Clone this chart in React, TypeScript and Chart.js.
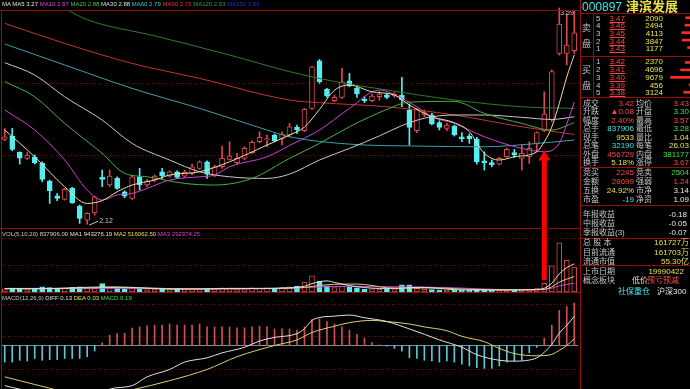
import React, { useEffect, useRef } from "react";
import { Chart, registerables } from "chart.js";
Chart.register(...registerables);

// ---------------- data ----------------
const opens = [
  2.696, 2.719, 2.608, 2.567, 2.578, 2.533, 2.413, 2.313, 2.288, 2.363,
  2.243, 2.147, 2.197, 2.438, 2.386, 2.431, 2.34, 2.295, 2.442, 2.386,
  2.42, 2.476, 2.447, 2.476, 2.447, 2.465, 2.499, 2.544, 2.454, 2.51,
  2.56, 2.538, 2.567, 2.606, 2.68, 2.692, 2.726, 2.703, 2.726, 2.778,
  2.755, 2.907, 3.231, 3.036, 2.959, 2.982, 3.095, 3.043, 2.968, 2.959,
  2.986, 3.0, 2.991, 2.996, 2.896, 2.755, 2.862, 2.862, 2.81, 2.771,
  2.787, 2.714, 2.719, 2.696, 2.551, 2.538, 2.528, 2.578, 2.606, 2.567,
  2.578, 2.669, 2.755, 2.828, 3.281, 3.281, 3.3,
];
const highs = [
  2.771, 2.771, 2.612, 2.606, 2.59, 2.544, 2.42, 2.329, 2.363, 2.37,
  2.25, 2.197, 2.311, 2.488, 2.488, 2.442, 2.347, 2.454, 2.499, 2.424,
  2.454, 2.499, 2.483, 2.483, 2.488, 2.528, 2.551, 2.551, 2.522, 2.651,
  2.68, 2.601, 2.646, 2.687, 2.748, 2.726, 2.733, 2.748, 2.805, 2.794,
  2.907, 3.195, 3.24, 3.043, 2.998, 3.179, 3.145, 3.054, 2.986, 3.005,
  3.02, 3.009, 3.014, 3.118, 2.937, 2.907, 2.896, 2.873, 2.823, 2.805,
  2.794, 2.742, 2.733, 2.71, 2.612, 2.556, 2.574, 2.635, 2.628, 2.658,
  2.68, 2.748, 3.02, 3.168, 3.59, 3.55, 3.57,
];
const lows = [
  2.687, 2.619, 2.528, 2.56, 2.528, 2.408, 2.261, 2.279, 2.284, 2.261,
  2.125, 2.12, 2.181, 2.374, 2.374, 2.356, 2.299, 2.288, 2.352, 2.374,
  2.408, 2.431, 2.438, 2.431, 2.438, 2.454, 2.492, 2.431, 2.442, 2.499,
  2.556, 2.528, 2.556, 2.601, 2.674, 2.646, 2.68, 2.658, 2.714, 2.737,
  2.748, 2.9, 3.077, 2.982, 2.952, 2.975, 3.054, 2.982, 2.946, 2.952,
  2.964, 2.973, 2.982, 2.918, 2.658, 2.742, 2.85, 2.794, 2.76, 2.755,
  2.719, 2.68, 2.669, 2.528, 2.488, 2.51, 2.522, 2.574, 2.574, 2.488,
  2.533, 2.612, 2.748, 2.817, 3.27, 3.202, 3.28,
];
const closes = [
  2.714, 2.628, 2.569, 2.59, 2.538, 2.424, 2.347, 2.295, 2.356, 2.265,
  2.159, 2.193, 2.306, 2.424, 2.447, 2.363, 2.311, 2.442, 2.386, 2.415,
  2.447, 2.449, 2.476, 2.438, 2.472, 2.51, 2.544, 2.46, 2.51, 2.567,
  2.583, 2.567, 2.635, 2.676, 2.71, 2.701, 2.687, 2.733, 2.782, 2.76,
  2.9, 3.19, 3.088, 2.991, 2.982, 3.088, 3.059, 3.005, 2.957, 2.991,
  3.005, 2.982, 3.005, 2.964, 2.778, 2.9, 2.878, 2.801, 2.778, 2.794,
  2.726, 2.701, 2.701, 2.544, 2.538, 2.524, 2.567, 2.628, 2.59, 2.601,
  2.635, 2.742, 2.869, 3.157, 3.481, 3.338, 3.42,
];
const volumes = [
  110000, 130000, 95000, 80000, 120000, 170000, 150000, 90000, 130000, 160000,
  170000, 130000, 120000, 283000, 150000, 120000, 100000, 140000, 100000, 85000,
  100000, 90000, 80000, 90000, 100000, 105000, 110000, 115000, 110000, 140000,
  130000, 100000, 110000, 140000, 120000, 120000, 130000, 150000, 170000, 200000,
  335000, 545000, 367000, 210000, 150000, 190000, 160000, 140000, 100000, 110000,
  95000, 90000, 80000, 240000, 240000, 120000, 90000, 80000, 75000, 65000,
  75000, 60000, 55000, 95000, 80000, 60000, 55000, 80000, 75000, 80000,
  95000, 112000, 290000, 880000, 1650000, 1060000, 837906,
];
const macdHist = [
  -0.074, -0.074, -0.066, -0.069, -0.058, -0.066, -0.063, -0.063, -0.058, -0.058,
  -0.058, -0.05, -0.025, 0.012, 0.046, 0.053, 0.055, 0.078, 0.083, 0.088,
  0.091, 0.091, 0.096, 0.091, 0.091, 0.091, 0.096, 0.083, 0.083, 0.083,
  0.083, 0.079, 0.079, 0.083, 0.086, 0.083, 0.074, 0.074, 0.074, 0.069,
  0.083, 0.116, 0.119, 0.107, 0.096, 0.083, 0.069, 0.05, 0.033, 0.013,
  0.003, -0.003, -0.013, -0.025, -0.055, -0.058, -0.066, -0.069, -0.074, -0.069,
  -0.074, -0.083, -0.091, -0.099, -0.102, -0.102, -0.091, -0.074, -0.069, -0.066,
  -0.033, -0.008, 0.033, 0.091, 0.157, 0.174, 0.19,
];
// [day index, value] readings of the indicator lines
const diffPts: [number, number][] = [
  [0, -0.179], [2, -0.195], [4, -0.207], [7, -0.225], [9, -0.24], [11, -0.245], [12, -0.232],
  [14, -0.195], [17, -0.179], [19, -0.14], [22, -0.107], [24, -0.074], [27, -0.055], [29, -0.033],
  [32, -0.008], [34, 0.02], [36, 0.036], [39, 0.053], [40, 0.075], [41, 0.112], [42, 0.125],
  [44, 0.131], [46, 0.136], [48, 0.124], [51, 0.107], [54, 0.074], [56, 0.05], [58, 0.025],
  [61, -0.008], [63, -0.041], [66, -0.066], [68, -0.07], [70, -0.065], [71, -0.055],
  [72, -0.03], [73, 0.005], [74, 0.055], [75, 0.09], [76, 0.13],
];
const deaPts: [number, number][] = [
  [0, -0.14], [4, -0.174], [8, -0.207], [12, -0.235], [17, -0.198], [22, -0.157], [27, -0.107],
  [31, -0.05], [36, 0.0], [39, 0.025], [41, 0.058], [44, 0.086], [46, 0.102], [49, 0.112],
  [51, 0.107], [54, 0.096], [56, 0.083], [59, 0.066], [61, 0.041], [64, 0.017], [66, -0.013],
  [68, -0.036], [71, -0.046], [72, -0.045], [73, -0.04], [74, -0.022], [75, 0.0], [76, 0.03],
];
const ma5Pts: [number, number][] = [
  [0, 2.76], [4, 2.578], [8, 2.374], [11, 2.261], [13, 2.28], [15, 2.34], [17, 2.386], [20, 2.42],
  [22, 2.454], [26, 2.476], [30, 2.544], [35, 2.658], [38, 2.726], [40, 2.78], [42, 2.9], [44, 3.03],
  [46, 3.066], [49, 3.02], [52, 2.998], [54, 2.93], [57, 2.85], [60, 2.81], [62, 2.748], [64, 2.601],
  [66, 2.556], [68, 2.578], [71, 2.612], [72, 2.68], [73, 2.78], [74, 2.94], [75, 3.12], [76, 3.27],
];
const ma10Pts: [number, number][] = [
  [0, 2.896], [4, 2.76], [8, 2.556], [11, 2.352], [13, 2.284], [15, 2.318], [17, 2.329], [19, 2.363],
  [22, 2.42], [26, 2.442], [28, 2.454], [30, 2.51], [35, 2.578], [38, 2.655], [42, 2.76], [46, 2.907],
  [50, 3.032], [53, 2.975], [55, 2.918], [57, 2.85], [60, 2.805], [64, 2.714], [69, 2.635],
  [72, 2.612], [74, 2.669], [75, 2.8], [76, 2.95],
];
const ma20Pts: [number, number][] = [
  [0, 3.089], [4, 2.986], [8, 2.805], [13, 2.601], [16, 2.465], [19, 2.442], [24, 2.397], [28, 2.386],
  [33, 2.431], [38, 2.567], [42, 2.669], [46, 2.782], [51, 2.9], [54, 2.95], [60, 2.955], [64, 2.873],
  [69, 2.805], [73, 2.76], [76, 2.81],
];
const ma30Pts: [number, number][] = [
  [0, 3.218], [4, 3.134], [8, 2.986], [13, 2.828], [17, 2.669], [22, 2.556], [26, 2.476], [30, 2.442],
  [35, 2.431], [38, 2.46], [42, 2.556], [46, 2.635], [50, 2.72], [53, 2.79], [56, 2.84], [60, 2.862],
  [64, 2.862], [69, 2.846], [73, 2.832], [76, 2.85],
];
const ma60Pts: [number, number][] = [
  [0, 3.345], [8, 3.202], [17, 3.043], [26, 2.907], [35, 2.76], [38, 2.714], [46, 2.664], [55, 2.651],
  [64, 2.646], [70, 2.664], [76, 2.692],
];
const ma90Pts: [number, number][] = [
  [0, 3.485], [8, 3.349], [17, 3.213], [26, 3.111], [38, 2.964], [42, 2.946], [51, 2.918], [60, 2.862],
  [69, 2.782], [76, 2.73],
];
const ma120Pts: [number, number][] = [
  [0, 3.76], [4, 3.67], [8, 3.585], [11, 3.51], [20, 3.4], [30, 3.27], [38, 3.157], [44, 3.09],
  [51, 3.032], [60, 2.964], [69, 2.918], [76, 2.907],
];
const volMa5Pts: [number, number][] = [
  [0, 110000], [4, 107000], [9, 138000], [13, 170000], [15, 170000], [18, 142000], [22, 95000],
  [26, 99000], [30, 121000], [34, 120000], [38, 142000], [40, 193000], [41, 280000], [42, 343000],
  [43, 372000], [44, 321000], [46, 215000], [48, 150000], [50, 119000], [53, 123000], [54, 149000],
  [56, 154000], [58, 121000], [60, 77000], [63, 68000], [66, 69000], [69, 72000], [71, 88000],
  [72, 126000], [73, 291000], [74, 605000], [75, 818000], [76, 943276],
];
const volMa10Pts: [number, number][] = [
  [0, 115000], [5, 112000], [10, 128000], [14, 150000], [19, 135000], [24, 105000], [29, 105000],
  [34, 120000], [39, 135000], [41, 185000], [43, 240000], [45, 265000], [47, 265000], [49, 220000],
  [51, 140000], [53, 130000], [56, 135000], [59, 125000], [62, 90000], [66, 68000], [70, 72000],
  [72, 90000], [73, 170000], [74, 330000], [75, 430000], [76, 516062],
];
const volMa20Pts: [number, number][] = [
  [0, 120000], [10, 125000], [20, 120000], [30, 105000], [38, 125000], [42, 170000], [46, 190000],
  [50, 180000], [55, 170000], [60, 140000], [64, 100000], [68, 75000], [71, 78000], [72, 88000],
  [73, 125000], [74, 205000], [75, 255000], [76, 292374],
];

// legend readings
const maNames = ["MA5", "MA10", "MA20", "MA30", "MA60", "MA90", "MA120", "MA250"];
const maLast = ["3.27", "2.97", "2.88", "2.88", "2.79", "2.75", "2.93", "3.86"];
const volLegend = ["VOL(5,10,20)", "837906.00", "MA1 943276.19", "MA2 516062.50", "MA3 292374.25"];
const macdLegend = ["MACD(12,26,9)", "DIFF 0.13", "DEA 0.03", "MACD 0.19"];

// quote panel
const stockCode = "000897";
const stockName = "津滨发展";
const askPrices = [3.47, 3.46, 3.45, 3.44, 3.43];
const askVols = [2090, 2494, 4113, 3847, 1177];
const bidPrices = [3.42, 3.41, 3.40, 3.39, 3.38];
const bidVols = [2370, 4696, 9679, 456, 3124];

// annotation (red arrow)
const arrowAnno = { index: 72, tipPrice: 2.62, baseVolume: 400000 };

// ---------------- styles ----------------
const C_RED = "#ff4646";
const C_GREEN = "#3ce03c";
const C_CYAN = "#40e6e6";
const C_YEL = "#e8e04c";
const C_WHITE = "#e6e6e6";
const C_LABEL = "#c6c6c6";
const C_FRAME = "#980c0c";
const C_GRID = "#7a0000";
const UP = "#e04848";
const DOWN = "#54eef0";
const PANEL_FONT = "'Liberation Sans', 'Noto Sans CJK SC', sans-serif";

const N = opens.length;
const days = opens.map((_, i) => `D${i + 1}`);
const upAt = (i: number) => closes[i] >= opens[i];

function sparse(pts: [number, number][]) {
  const arr: (number | null)[] = new Array(N).fill(null);
  pts.forEach(([i, v]) => {
    arr[i] = v;
  });
  return arr;
}

function lineDs(pts: [number, number][], color: string) {
  return {
    type: "line" as const,
    data: sparse(pts),
    borderColor: color,
    borderWidth: 1,
    pointRadius: 0,
    spanGaps: true,
    cubicInterpolationMode: "monotone" as const,
    fill: false,
    order: 0,
  };
}

function baseOptions(yMin: number, yMax: number, top = 0): any {
  return {
    animation: false,
    responsive: false,
    devicePixelRatio: 1,
    events: [],
    layout: { padding: { left: 1, right: 2, top, bottom: 0 } },
    plugins: { legend: { display: false }, tooltip: { enabled: false } },
    scales: {
      x: { display: false, offset: true },
      y: { display: false, min: yMin, max: yMax },
    },
  };
}

function dottedLines(chart: any, values: number[]) {
  const { ctx, scales } = chart;
  ctx.save();
  ctx.strokeStyle = C_GRID;
  ctx.lineWidth = 1;
  ctx.setLineDash([1, 2]);
  values.forEach((v) => {
    const py = Math.round(scales.y.getPixelForValue(v)) + 0.5;
    ctx.beginPath();
    ctx.moveTo(2, py);
    ctx.lineTo(chart.width, py);
    ctx.stroke();
  });
  ctx.restore();
}

const priceGrid = [3.08, 2.59];
const volGrid = [1810000, 905000];
const macdGrid = [0.185, 0.042, -0.103];

const priceMaStyle: [string, [number, number][]][] = [
  ["#e8e0a8", ma5Pts],
  ["#d040d0", ma10Pts],
  ["#48b048", ma20Pts],
  ["#c8c8c8", ma30Pts],
  ["#3ca0a8", ma60Pts],
  ["#c83232", ma90Pts],
  ["#2e7a2e", ma120Pts],
];
const maLegendColors = ["#e0e0e0", "#e040e0", "#40c040", "#e0e0e0", "#40c8c8", "#e03030", "#30a030", "#2828e0"];

function priceConfig(): any {
  const pricePlugin = {
    id: "priceDecor",
    beforeDatasetsDraw(chart: any) {
      dottedLines(chart, priceGrid);
    },
    afterDatasetsDraw(chart: any) {
      const { ctx, scales } = chart;
      const xs = scales.x;
      const ys = scales.y;
      let lo = 0;
      let hi = 0;
      lows.forEach((v, i) => {
        if (v < lows[lo]) lo = i;
      });
      highs.forEach((v, i) => {
        if (v > highs[hi]) hi = i;
      });
      ctx.save();
      ctx.font = "7px 'Liberation Sans'";
      ctx.fillStyle = "#c8c8c8";
      ctx.strokeStyle = "#c8c8c8";
      ctx.lineWidth = 1;
      ctx.textBaseline = "middle";
      const lx = xs.getPixelForValue(lo);
      const ly = ys.getPixelForValue(lows[lo]);
      ctx.beginPath();
      ctx.moveTo(lx + 2, ly + 1);
      ctx.lineTo(lx + 11, ly - 3);
      ctx.stroke();
      ctx.fillText(lows[lo].toFixed(2), lx + 12, ly - 3);
      const hx = xs.getPixelForValue(hi);
      const hy = ys.getPixelForValue(highs[hi]);
      ctx.fillText(highs[hi].toFixed(2), hx + 1, hy + 5);
      // arrow head + shaft
      const ax = xs.getPixelForValue(arrowAnno.index);
      const ay = ys.getPixelForValue(arrowAnno.tipPrice);
      ctx.fillStyle = "#ff0000";
      ctx.beginPath();
      ctx.moveTo(ax, ay);
      ctx.lineTo(ax - 6, ay + 10);
      ctx.lineTo(ax + 6, ay + 10);
      ctx.closePath();
      ctx.fill();
      ctx.fillRect(ax - 2.5, ay + 9, 5, chart.height - ay - 9);
      ctx.restore();
    },
  };
  return {
    type: "bar",
    data: {
      labels: days,
      datasets: [
        ...priceMaStyle.map(([c, p]) => lineDs(p, c)),
        {
          type: "bar",
          data: opens.map((o, i) => [o, closes[i]]),
          backgroundColor: opens.map((_, i) => (upAt(i) ? "#000000" : DOWN)),
          borderColor: opens.map((_, i) => (upAt(i) ? UP : DOWN)),
          borderWidth: 1,
          borderSkipped: false,
          barThickness: 5,
          grouped: false,
          clip: false,
          order: 1,
        },
        {
          type: "bar",
          data: lows.map((l, i) => [l, highs[i]]),
          backgroundColor: opens.map((_, i) => (upAt(i) ? UP : DOWN)),
          barThickness: 1,
          grouped: false,
          clip: false,
          order: 2,
        },
      ],
    },
    options: baseOptions(2.087, 3.576, 10),
    plugins: [pricePlugin],
  };
}

function volumeConfig(): any {
  const volPlugin = {
    id: "volDecor",
    beforeDatasetsDraw(chart: any) {
      dottedLines(chart, volGrid);
    },
    afterDatasetsDraw(chart: any) {
      const { ctx, scales } = chart;
      const ax = scales.x.getPixelForValue(arrowAnno.index);
      const by = scales.y.getPixelForValue(arrowAnno.baseVolume);
      ctx.save();
      ctx.fillStyle = "#ff0000";
      ctx.fillRect(ax - 2.5, 0, 5, by);
      ctx.restore();
    },
  };
  return {
    type: "bar",
    data: {
      labels: days,
      datasets: [
        lineDs(volMa5Pts, "#e0e0e0"),
        lineDs(volMa10Pts, "#d8d070"),
        lineDs(volMa20Pts, "#d040d0"),
        {
          type: "bar",
          data: volumes,
          backgroundColor: volumes.map((_, i) => (upAt(i) ? "#000000" : DOWN)),
          borderColor: volumes.map((_, i) => (upAt(i) ? UP : DOWN)),
          borderWidth: 1,
          borderSkipped: false,
          barThickness: 5,
          order: 1,
        },
      ],
    },
    options: baseOptions(0, 2110000),
    plugins: [volPlugin],
  };
}

function macdConfig(): any {
  const macdPlugin = {
    id: "macdDecor",
    beforeDatasetsDraw(chart: any) {
      dottedLines(chart, macdGrid);
      const { ctx, scales } = chart;
      const zy = Math.round(scales.y.getPixelForValue(0)) + 0.5;
      ctx.save();
      ctx.strokeStyle = "#7890a8";
      ctx.lineWidth = 1;
      ctx.beginPath();
      ctx.moveTo(2, zy);
      ctx.lineTo(chart.width - 2, zy);
      ctx.stroke();
      ctx.restore();
    },
  };
  return {
    type: "bar",
    data: {
      labels: days,
      datasets: [
        lineDs(diffPts, "#e0e0e0"),
        lineDs(deaPts, "#d8d070"),
        {
          type: "bar",
          data: macdHist,
          backgroundColor: macdHist.map((v) => (v >= 0 ? "#d05050" : "#58c8d8")),
          barThickness: 1,
          order: 1,
        },
      ],
    },
    options: baseOptions(-0.1942, 0.2388),
    plugins: [macdPlugin],
  };
}

function bookConfig(): any {
  const labels = [
    ...askPrices.map((p) => `S${p.toFixed(2)}`),
    "",
    ...bidPrices.map((p) => `B${p.toFixed(2)}`),
  ];
  const data = [...askVols, null, ...bidVols];
  return {
    type: "bar",
    data: {
      labels,
      datasets: [{ data, backgroundColor: "#ff2a2a", barThickness: 2 }],
    },
    options: {
      indexAxis: "y",
      animation: false,
      responsive: false,
      devicePixelRatio: 1,
      events: [],
      layout: { padding: 0 },
      plugins: { legend: { display: false }, tooltip: { enabled: false } },
      scales: {
        x: { display: false, reverse: true, min: 0, max: 13000 },
        y: { display: false },
      },
    },
  };
}

// ---------------- view helpers ----------------
type TxtProps = {
  x: number;
  y: number;
  text: string;
  color: string;
  size?: number;
  right?: boolean;
  underline?: boolean;
  bold?: boolean;
};
function Txt({ x, y, text, color, size = 8, right, underline, bold }: TxtProps) {
  const style: React.CSSProperties = {
    position: "absolute",
    top: y - (size + 1) / 2,
    lineHeight: `${size + 1}px`,
    fontSize: size,
    color,
    whiteSpace: "pre",
    fontFamily: PANEL_FONT,
    fontWeight: bold ? 700 : 400,
    textDecoration: underline ? "underline" : "none",
  };
  if (right) style.right = 690 - x;
  else style.left = x;
  return <div style={style}>{text}</div>;
}
function HL({ x1, x2, y, color = C_FRAME }: { x1: number; x2: number; y: number; color?: string }) {
  return <div style={{ position: "absolute", left: x1, top: y, width: x2 - x1, height: 1, background: color }} />;
}
function VL({ x, y1, y2, color = C_FRAME }: { x: number; y1: number; y2: number; color?: string }) {
  return <div style={{ position: "absolute", left: x, top: y1, width: 1, height: y2 - y1, background: color }} />;
}

function Legend({ y, parts, colors }: { y: number; parts: string[]; colors: string[] }) {
  return (
    <div
      style={{
        position: "absolute",
        left: 2,
        top: y - 3.5,
        fontSize: 6,
        lineHeight: "7px",
        fontFamily: "'Liberation Sans', sans-serif",
        whiteSpace: "pre",
      }}
    >
      {parts.map((t, i) => (
        <span key={i} style={{ color: colors[i] }}>
          {(i ? " " : "") + t}
        </span>
      ))}
    </div>
  );
}

const statRows: [string, string, string, string, string, string][] = [
  ["成交", "3.42", C_RED, "均价", "3.43", C_RED],
  ["升跌", "▲0.08", C_RED, "开盘", "3.30", C_GREEN],
  ["幅度", "2.40%", C_RED, "最高", "3.57", C_RED],
  ["总手", "837906", C_CYAN, "最低", "3.28", C_GREEN],
  ["现手", "9533", C_YEL, "量比", "1.04", C_YEL],
  ["总笔", "32190", C_CYAN, "每笔", "26.03", C_YEL],
  ["外盘", "456729", C_RED, "内盘", "381177", C_GREEN],
  ["换手", "5.18%", C_YEL, "涨停", "3.67", C_RED],
  ["竞买", "2245", C_RED, "竞卖", "2504", C_GREEN],
  ["金额", "28699", C_RED, "强弱", "1.24", C_RED],
  ["五换", "24.92%", C_YEL, "市净", "3.14", C_WHITE],
  ["市盈", "-19", C_CYAN, "净资", "1.09", C_WHITE],
];
const statY = [103, 111.5, 120, 128.5, 137, 145.5, 154, 162.5, 172, 181, 190, 199];

const infoRows: [string, string, string, number, number][] = [
  ["年报收益", "-0.18", C_WHITE, 687, 214],
  ["中报收益", "-0.05", C_WHITE, 687, 223],
  ["季报收益(3)", "-0.07", C_WHITE, 687, 232],
  ["总 股 本", "161727万", C_YEL, 689, 242],
  ["目前流通", "161703万", C_YEL, 689, 252],
  ["流通市值", "55.30亿", C_YEL, 689, 261],
  ["上市日期", "19990422", C_YEL, 684, 271],
];

export default function App() {
  const priceRef = useRef<HTMLCanvasElement>(null);
  const volRef = useRef<HTMLCanvasElement>(null);
  const macdRef = useRef<HTMLCanvasElement>(null);
  const bookRef = useRef<HTMLCanvasElement>(null);

  useEffect(() => {
    const charts: Chart[] = [];
    if (priceRef.current) charts.push(new Chart(priceRef.current, priceConfig()));
    if (volRef.current) charts.push(new Chart(volRef.current, volumeConfig()));
    if (macdRef.current) charts.push(new Chart(macdRef.current, macdConfig()));
    if (bookRef.current) charts.push(new Chart(bookRef.current, bookConfig()));
    return () => charts.forEach((c) => c.destroy());
  }, []);

  const cv = (left: number, top: number, w: number, h: number): React.CSSProperties => ({
    position: "absolute",
    left,
    top,
    width: w,
    height: h,
  });

  return (
    <div
      style={{
        position: "absolute",
        left: 0,
        top: 0,
        width: 690,
        height: 389,
        background: "#000",
        overflow: "hidden",
        fontFamily: PANEL_FONT,
      }}
    >
      <canvas ref={priceRef} width={580} height={229} style={cv(0, 0, 580, 229)} />
      <canvas ref={volRef} width={580} height={63} style={cv(0, 229, 580, 63)} />
      <canvas ref={macdRef} width={580} height={97} style={cv(0, 292, 580, 97)} />
      <canvas ref={bookRef} width={26} height={82} style={cv(664, 14, 26, 82)} />

      {/* chart frames */}
      <HL x1={0} x2={580} y={10} />
      <HL x1={0} x2={580} y={228} />
      <HL x1={0} x2={580} y={292} />
      <VL x={1} y1={10} y2={389} />
      <VL x={580} y1={0} y2={389} />

      {/* chart legends */}
      <Legend
        y={4.5}
        parts={["MA " + maNames[0] + " " + maLast[0], ...maNames.slice(1).map((n, i) => n + " " + maLast[i + 1])]}
        colors={maLegendColors}
      />
      <Legend y={234} parts={volLegend} colors={["#c8c8c8", "#d8d8b0", "#e0e0e0", "#e0e040", "#e040e0"]} />
      <Legend y={298} parts={macdLegend} colors={["#c8c8c8", "#e0e0e0", "#e0e040", "#40e040"]} />

      {/* quote panel */}
      <Txt x={582} y={7} text={stockCode} color={C_CYAN} size={12} />
      <Txt x={626} y={7} text={stockName} color={C_YEL} size={13} bold />
      <HL x1={580} x2={690} y={13} />
      <HL x1={580} x2={690} y={56} />
      <HL x1={580} x2={690} y={97} />
      <HL x1={580} x2={690} y={167} />
      <HL x1={580} x2={690} y={205} />
      <HL x1={580} x2={690} y={238} />
      <HL x1={580} x2={690} y={265} />
      <VL x={593} y1={13} y2={97} />

      <Txt x={582} y={28} text="卖" color={C_LABEL} size={9} />
      <Txt x={582} y={44} text="盘" color={C_LABEL} size={9} />
      <Txt x={582} y={70} text="买" color={C_LABEL} size={9} />
      <Txt x={582} y={86} text="盘" color={C_LABEL} size={9} />

      {askPrices.map((p, k) => {
        const y = 18.3 + 7.6 * k;
        return (
          <React.Fragment key={"a" + k}>
            <Txt x={596} y={y} text={String(5 - k)} color={C_LABEL} />
            <Txt x={625} y={y} text={p.toFixed(2)} color={C_RED} right underline />
            <Txt x={663} y={y} text={String(askVols[k])} color={C_YEL} right />
          </React.Fragment>
        );
      })}
      {bidPrices.map((p, k) => {
        const y = 61.3 + 7.9 * k;
        return (
          <React.Fragment key={"b" + k}>
            <Txt x={596} y={y} text={String(k + 1)} color={C_LABEL} />
            <Txt x={625} y={y} text={p.toFixed(2)} color={C_RED} right underline />
            <Txt x={663} y={y} text={String(bidVols[k])} color={C_YEL} right />
          </React.Fragment>
        );
      })}

      {statRows.map((r, k) => (
        <React.Fragment key={"s" + k}>
          <Txt x={583} y={statY[k]} text={r[0]} color={C_LABEL} />
          <Txt x={634} y={statY[k]} text={r[1]} color={r[2]} right />
          <Txt x={636} y={statY[k]} text={r[3]} color={C_LABEL} />
          <Txt x={689} y={statY[k]} text={r[4]} color={r[5]} right />
        </React.Fragment>
      ))}

      {infoRows.map((r, k) => (
        <React.Fragment key={"i" + k}>
          <Txt x={583} y={r[4]} text={r[0]} color={C_LABEL} />
          <Txt x={r[3]} y={r[4]} text={r[1]} color={r[2]} right />
        </React.Fragment>
      ))}
      <Txt x={583} y={280} text="概念板块" color={C_LABEL} />
      <Txt x={632} y={280} text="低价" color="#e0e0b8" />
      <Txt x={647} y={280} text="预亏预减" color={C_RED} />
      <Txt x={618} y={291} text="社保重仓" color={C_CYAN} />
      <Txt x={657} y={291} text="沪深300" color={C_WHITE} />
    </div>
  );
}
